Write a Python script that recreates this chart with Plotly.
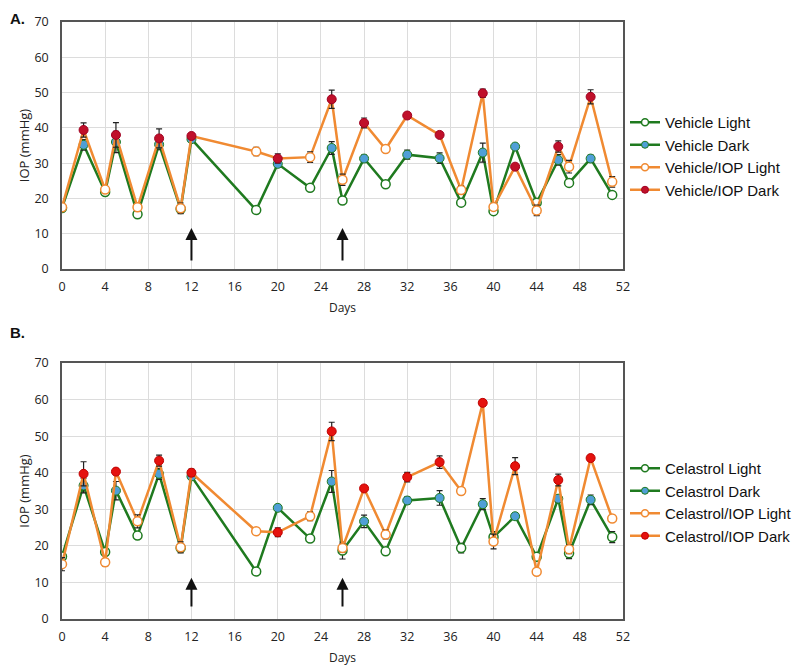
import plotly.graph_objects as go

# ---------------- data ----------------
days_light = [0, 4, 7, 11, 18, 23, 26, 30, 37, 40, 44, 47, 51]
days_dark = [2, 5, 9, 12, 20, 25, 28, 32, 35, 39, 42, 46, 49]
x_ticks = list(range(0, 53, 4))
y_ticks = list(range(0, 71, 10))
arrow_days = [12, 26]

# Panel A
veh_light = [17.3, 21.8, 15.5, 17.0, 16.7, 23.0, 19.4, 24.0, 18.8, 16.4, 18.8, 24.4, 21.0]
veh_light_err = [0.5, 0.5, 0.5, 1.0, 0.8, 0.7, 0.6, 0.8, 0.8, 0.6, 1.0, 1.0, 0.8]
veh_dark = [35.2, 36.0, 35.3, 36.8, 29.8, 34.3, 31.3, 32.4, 31.4, 33.0, 34.7, 30.9, 31.3]
veh_dark_err = [1.5, 3.0, 1.5, 0.6, 1.0, 1.8, 1.0, 1.3, 1.5, 2.7, 0.8, 1.5, 1.0]
vehiop_light = [17.5, 22.5, 17.5, 17.2, 33.3, 31.7, 25.3, 34.0, 22.4, 17.6, 16.6, 29.0, 24.7]
vehiop_light_err = [0.5, 0.8, 1.0, 1.5, 1.2, 1.5, 1.6, 0.7, 1.2, 1.0, 1.5, 1.8, 1.5]
vehiop_dark = [39.4, 38.0, 37.0, 37.7, 31.3, 48.1, 41.4, 43.5, 38.0, 49.8, 29.0, 34.7, 48.8]
vehiop_dark_err = [2.0, 3.5, 2.7, 0.5, 1.3, 2.6, 1.4, 0.5, 0.8, 1.2, 0.6, 1.6, 2.0]

# Panel B
cel_light = [17.1, 18.3, 22.8, 19.4, 13.0, 22.0, 18.7, 18.5, 19.4, 22.4, 17.0, 18.0, 22.4]
cel_light_err = [0.5, 0.8, 0.8, 1.0, 0.7, 0.8, 2.3, 0.8, 1.3, 1.5, 0.8, 1.5, 1.5]
cel_dark = [36.5, 35.1, 39.7, 39.0, 30.4, 37.6, 26.7, 32.4, 33.1, 31.4, 28.1, 32.9, 32.6]
cel_dark_err = [2.0, 2.5, 1.5, 0.8, 0.8, 3.0, 1.7, 1.0, 2.0, 1.5, 0.8, 1.0, 1.3]
celiop_light = [15.0, 15.5, 26.7, 19.6, 24.0, 28.1, 19.4, 23.1, 35.0, 21.2, 12.9, 19.1, 27.5]
celiop_light_err = [1.8, 1.0, 1.8, 1.5, 0.5, 1.2, 1.2, 1.2, 0.8, 2.0, 0.8, 1.2, 0.8]
celiop_dark = [39.7, 40.3, 43.3, 40.0, 23.7, 51.3, 35.7, 38.8, 42.9, 59.1, 41.8, 38.0, 44.0]
celiop_dark_err = [3.3, 0.8, 1.5, 1.0, 1.2, 2.5, 0.8, 1.3, 1.7, 0.8, 2.3, 1.6, 0.8]

GREEN = "#1f7a1f"
ORANGE = "#f08a32"
BLUE = "#4f9fd6"
RED_A = "#c0102a"
RED_B = "#e5120e"
FONT = "Liberation Sans"
TICKFONT = "Open Sans"

# page has an 8px body margin: build the figure to fit the visible window
W, H, OFF = 792, 658, 8

fig = go.Figure()


def combined(light, dark):
    pts = sorted(list(zip(days_light, light)) + list(zip(days_dark, dark)))
    return [p[0] for p in pts], [p[1] for p in pts]


def add_group(xa, ya, legend, light, light_err, dark, dark_err, color, fill_dark,
              border_dark, name_light, name_dark):
    cx, cy = combined(light, dark)
    fig.add_trace(go.Scatter(x=cx, y=cy, mode="lines", line=dict(color=color, width=2.5),
                             xaxis=xa, yaxis=ya, showlegend=False, hoverinfo="skip"))
    fig.add_trace(go.Scatter(x=days_light, y=light, mode="markers", xaxis=xa, yaxis=ya,
                             showlegend=False,
                             error_y=dict(type="data", array=light_err, color="#222",
                                          thickness=1.2, width=3),
                             marker=dict(symbol="circle", size=9, color="white",
                                         line=dict(color=color, width=1.5))))
    fig.add_trace(go.Scatter(x=days_dark, y=dark, mode="markers", xaxis=xa, yaxis=ya,
                             showlegend=False,
                             error_y=dict(type="data", array=dark_err, color="#222",
                                          thickness=1.2, width=3),
                             marker=dict(symbol="circle", size=9, color=fill_dark,
                                         line=dict(color=border_dark, width=1))))
    fig.add_trace(go.Scatter(x=[None], y=[None], mode="lines+markers", name=name_light,
                             xaxis=xa, yaxis=ya, legend=legend,
                             line=dict(color=color, width=2.5),
                             marker=dict(size=7, color="white", line=dict(color=color, width=1.5))))
    fig.add_trace(go.Scatter(x=[None], y=[None], mode="lines+markers", name=name_dark,
                             xaxis=xa, yaxis=ya, legend=legend,
                             line=dict(color=color, width=2.5),
                             marker=dict(size=7, color=fill_dark, line=dict(color=border_dark, width=1))))


add_group("x", "y", "legend", veh_light, veh_light_err, veh_dark, veh_dark_err,
          GREEN, BLUE, GREEN, "Vehicle Light", "Vehicle Dark")
add_group("x", "y", "legend", vehiop_light, vehiop_light_err, vehiop_dark, vehiop_dark_err,
          ORANGE, RED_A, "#a00020", "Vehicle/IOP Light", "Vehicle/IOP Dark")
add_group("x2", "y2", "legend2", cel_light, cel_light_err, cel_dark, cel_dark_err,
          GREEN, BLUE, GREEN, "Celastrol Light", "Celastrol Dark")
add_group("x2", "y2", "legend2", celiop_light, celiop_light_err, celiop_dark, celiop_dark_err,
          ORANGE, RED_B, "#c00000", "Celastrol/IOP Light", "Celastrol/IOP Dark")


def px_x(x):
    return (x - OFF) / W


def px_y(y):
    return 1 - (y - OFF) / H


xdom = [px_x(62), px_x(623)]
dom_a = [px_y(269), px_y(22)]
dom_b = [px_y(619), px_y(363)]

axis_common = dict(showline=True, mirror=True, linecolor="#555", linewidth=1.5,
                   showgrid=True, gridcolor="#dcdcdc", gridwidth=1, zeroline=False,
                   ticks="", tickfont=dict(family=TICKFONT, size=12.5, color="#222"))

xcommon = dict(axis_common, range=[0, 52], tickvals=x_ticks, domain=xdom,
               ticklabelstandoff=5,
               title=dict(text="Days", font=dict(family=TICKFONT, size=12, color="#222"), standoff=10))
ycommon = dict(axis_common, range=[0, 70], tickvals=y_ticks, ticklabelstandoff=9,
               title=dict(text="IOP (mmHg)", font=dict(family=TICKFONT, size=13, color="#222"), standoff=2))

annotations = []
for xa, ya, tip, tail in [("x", "y", 11.6, 2.0), ("x2", "y2", 11.3, 3.0)]:
    for d in arrow_days:
        annotations.append(dict(x=d, y=tip, ax=d, ay=tail, xref=xa, yref=ya, axref=xa, ayref=ya,
                                text="", showarrow=True, arrowhead=2, arrowsize=1.2,
                                arrowwidth=2, arrowcolor="#111"))
annotations.append(dict(text="<b>A.</b>", x=0, y=1, xref="paper", yref="paper",
                        showarrow=False, xanchor="left", yanchor="top",
                        font=dict(family=FONT, size=15, color="#111")))
annotations.append(dict(text="<b>B.</b>", x=0, y=px_y(322), xref="paper", yref="paper",
                        showarrow=False, xanchor="left", yanchor="top",
                        font=dict(family=FONT, size=15, color="#111")))

legend_common = dict(font=dict(family=FONT, size=15, color="#111"), bgcolor="rgba(0,0,0,0)",
                     xanchor="left", yanchor="top", tracegroupgap=0, itemwidth=30)

fig.update_layout(
    width=W, height=H,
    margin=dict(l=0, r=0, t=0, b=0, autoexpand=False),
    paper_bgcolor="white", plot_bgcolor="white",
    xaxis=dict(xcommon, anchor="y"),
    yaxis=dict(ycommon, domain=dom_a, anchor="x"),
    xaxis2=dict(xcommon, anchor="y2"),
    yaxis2=dict(ycommon, domain=dom_b, anchor="x2"),
    legend=dict(legend_common, x=px_x(625), y=px_y(106)),
    legend2=dict(legend_common, x=px_x(625), y=px_y(452)),
    annotations=annotations,
    showlegend=True,
)

fig.write_html("out.html")
